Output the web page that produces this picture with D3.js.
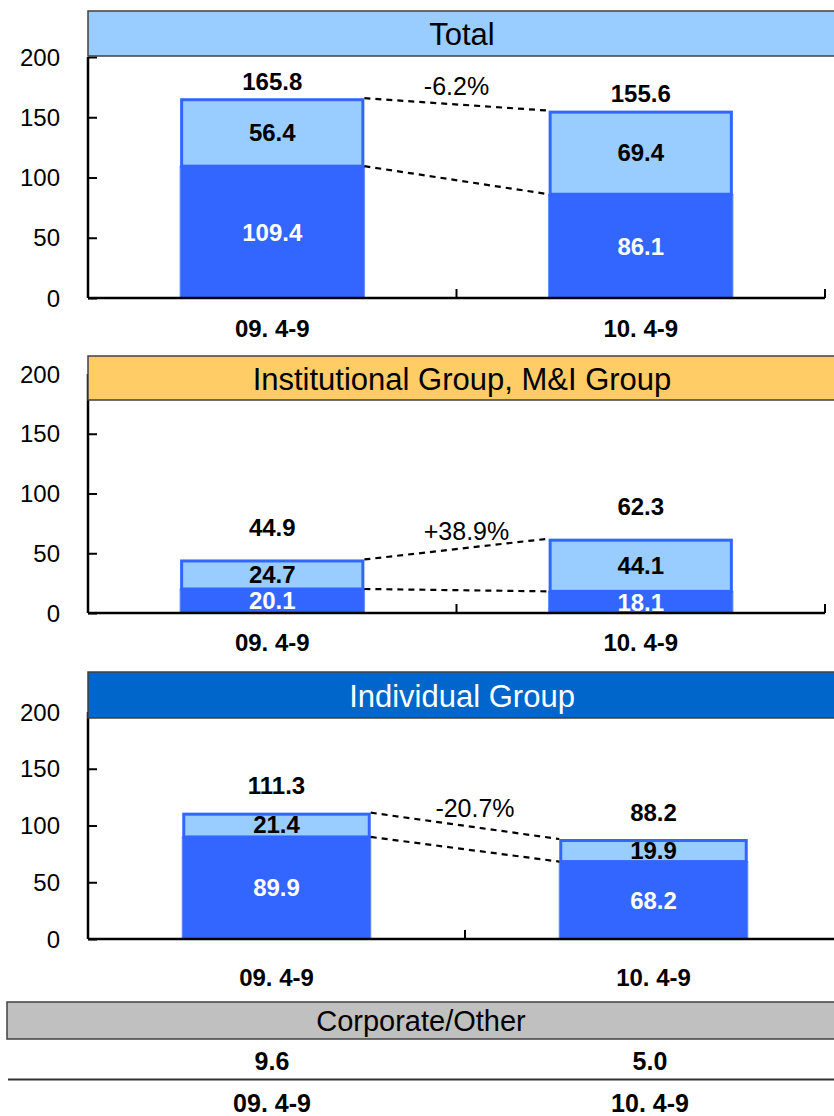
<!DOCTYPE html>
<html>
<head>
<meta charset="utf-8">
<script src="https://cdn.jsdelivr.net/npm/d3@7/dist/d3.min.js"></script>
<style>
  body { margin: 0; background: #fff; }
  svg { display: block; font-family: "Liberation Sans", Arial, sans-serif; }
</style>
</head>
<body>
<div id="chart"></div>
<script>
// data
var periods = ["09. 4-9", "10. 4-9"];
var panelTitles = ["Total", "Institutional Group, M&I Group", "Individual Group"];
var lowerValues = [[109.4, 86.1], [20.1, 18.1], [89.9, 68.2]];
var upperValues = [[56.4, 69.4], [24.7, 44.1], [21.4, 19.9]];
var totalValues = [[165.8, 155.6], [44.9, 62.3], [111.3, 88.2]];
var changeLabels = ["-6.2%", "+38.9%", "-20.7%"];
var yTicks = [0, 50, 100, 150, 200];
var corporateTitle = "Corporate/Other";
var corporateValues = ["9.6", "5.0"];

var width = 834, height = 1116;
var darkBlue = "#3366FF", lightBlue = "#99CCFF";

// layout of each panel (pixels)
var panels = [
  {bandTop: 11, bandBottom: 56, y0: 298, y200: 57, xRight: 825, totalOff: 17, xLab: 30, bandFill: "#99CCFF", titleCol: "#000"},
  {bandTop: 356, bandBottom: 400, y0: 613, y200: 374, xRight: 825, totalOff: 32, xLab: 29, bandFill: "#FFCC66", titleCol: "#000"},
  {bandTop: 672, bandBottom: 718, y0: 939, y200: 712, xRight: 842, totalOff: 27, xLab: 38, bandFill: "#0066CC", titleCol: "#fff"}
];
var xLeft = 88;

var svg = d3.select("#chart").append("svg")
    .attr("width", width)
    .attr("height", height);

panels.forEach(function(p, i) {
  var g = svg.append("g");

  var x = d3.scaleBand()
      .domain(periods)
      .range([xLeft, p.xRight])
      .paddingInner(0.5)
      .paddingOuter(0.25);

  var y = d3.scaleLinear()
      .domain([0, 200])
      .range([p.y0, p.y200]);

  var rows = periods.map(function(d, j) {
    return {period: d, lower: lowerValues[i][j], upper: upperValues[i][j], total: totalValues[i][j]};
  });

  // bars
  rows.forEach(function(d) {
    var bx = x(d.period), bw = x.bandwidth();
    g.append("rect")
        .attr("x", bx).attr("width", bw)
        .attr("y", y(d.lower)).attr("height", y(0) - y(d.lower))
        .attr("fill", darkBlue)
        .attr("stroke", "#5a85ff").attr("stroke-width", 1);
    g.append("rect")
        .attr("x", bx + 1.5).attr("width", bw - 3)
        .attr("y", y(d.lower + d.upper) + 1.5).attr("height", y(d.lower) - y(d.lower + d.upper) - 1.5)
        .attr("fill", lightBlue)
        .attr("stroke", darkBlue).attr("stroke-width", 3);

    g.append("text")
        .attr("x", bx + bw / 2).attr("y", (y(0) + y(d.lower)) / 2)
        .attr("text-anchor", "middle").attr("dominant-baseline", "central")
        .attr("font-size", 24).attr("font-weight", "bold").attr("fill", "#fff")
        .text(d.lower.toFixed(1));
    g.append("text")
        .attr("x", bx + bw / 2).attr("y", (y(d.lower) + y(d.lower + d.upper)) / 2)
        .attr("text-anchor", "middle").attr("dominant-baseline", "central")
        .attr("font-size", 24).attr("font-weight", "bold").attr("fill", "#000")
        .text(d.upper.toFixed(1));
    g.append("text")
        .attr("x", bx + bw / 2).attr("y", y(d.lower + d.upper) - p.totalOff)
        .attr("text-anchor", "middle").attr("dominant-baseline", "central")
        .attr("font-size", 24).attr("font-weight", "bold").attr("fill", "#000")
        .text(d.total.toFixed(1));

    g.append("text")
        .attr("x", bx + bw / 2).attr("y", p.y0 + p.xLab)
        .attr("text-anchor", "middle").attr("dominant-baseline", "central")
        .attr("font-size", 24).attr("font-weight", "bold").attr("fill", "#000")
        .text(d.period);
  });

  // dashed connectors
  var a = rows[0], b = rows[1];
  var x1 = x(a.period) + x.bandwidth(), x2 = x(b.period);
  [[a.lower + a.upper, b.lower + b.upper], [a.lower, b.lower]].forEach(function(v) {
    g.append("line")
        .attr("x1", x1).attr("y1", y(v[0]))
        .attr("x2", x2).attr("y2", y(v[1]))
        .attr("stroke", "#000").attr("stroke-width", 2.2)
        .attr("stroke-dasharray", "6,5");
  });
  var midY = (y(a.lower + a.upper) + y(b.lower + b.upper)) / 2;
  g.append("text")
      .attr("x", (x1 + x2) / 2 + (i === 0 ? 0 : 10)).attr("y", midY - 18)
      .attr("text-anchor", "middle").attr("dominant-baseline", "central")
      .attr("font-size", 25).attr("fill", "#000")
      .text(changeLabels[i]);

  // axes
  var yAxis = g.append("g")
      .attr("transform", "translate(" + xLeft + ",0)")
      .call(d3.axisRight(y).tickValues(yTicks).tickSize(9).tickFormat(""));
  yAxis.select(".domain").attr("stroke", "#000").attr("stroke-width", 2.5).attr("d", "M0," + y(200) + "V" + y(0));
  yAxis.selectAll(".tick line").attr("stroke", "#000").attr("stroke-width", 2);

  g.selectAll(".ylab").data(yTicks).enter().append("text")
      .attr("x", 60).attr("y", function(d) { return y(d); })
      .attr("text-anchor", "end").attr("dominant-baseline", "central")
      .attr("font-size", 24).attr("fill", "#000")
      .text(function(d) { return d; });

  g.append("line")
      .attr("x1", xLeft).attr("x2", p.xRight)
      .attr("y1", y(0)).attr("y2", y(0))
      .attr("stroke", "#000").attr("stroke-width", 2.5);
  var sepTicks = [(xLeft + p.xRight) / 2];
  if (p.xRight < width) sepTicks.push(p.xRight);
  sepTicks.forEach(function(t) {
    g.append("line")
        .attr("x1", t).attr("x2", t)
        .attr("y1", y(0)).attr("y2", y(0) - 9)
        .attr("stroke", "#000").attr("stroke-width", 2);
  });

  // title band
  g.append("rect")
      .attr("x", xLeft).attr("y", p.bandTop)
      .attr("width", width - xLeft + 10).attr("height", p.bandBottom - p.bandTop)
      .attr("fill", p.bandFill).attr("stroke", "#404040").attr("stroke-width", 1.5);
  g.append("text")
      .attr("x", 462).attr("y", (p.bandTop + p.bandBottom) / 2 + 1)
      .attr("text-anchor", "middle").attr("dominant-baseline", "central")
      .attr("font-size", 31).attr("fill", p.titleCol)
      .text(panelTitles[i]);
});

// Corporate/Other row
var xc = d3.scaleBand().domain(periods).range([83, 839]);
svg.append("rect")
    .attr("x", 7).attr("y", 1002)
    .attr("width", width).attr("height", 37)
    .attr("fill", "#C0C0C0").attr("stroke", "#404040").attr("stroke-width", 1.5);
svg.append("text")
    .attr("x", 421).attr("y", 1021)
    .attr("text-anchor", "middle").attr("dominant-baseline", "central")
    .attr("font-size", 29).attr("fill", "#000")
    .text(corporateTitle);
svg.selectAll(".corpval").data(corporateValues).enter().append("text")
    .attr("x", function(d, j) { return xc(periods[j]) + xc.bandwidth() / 2; })
    .attr("y", 1061)
    .attr("text-anchor", "middle").attr("dominant-baseline", "central")
    .attr("font-size", 25).attr("font-weight", "bold")
    .text(function(d) { return d; });
svg.append("line")
    .attr("x1", 8).attr("x2", width).attr("y1", 1079.5).attr("y2", 1079.5)
    .attr("stroke", "#333").attr("stroke-width", 2);
svg.selectAll(".corplab").data(periods).enter().append("text")
    .attr("x", function(d) { return xc(d) + xc.bandwidth() / 2; })
    .attr("y", 1103)
    .attr("text-anchor", "middle").attr("dominant-baseline", "central")
    .attr("font-size", 25).attr("font-weight", "bold")
    .text(function(d) { return d; });
</script>
</body>
</html>
